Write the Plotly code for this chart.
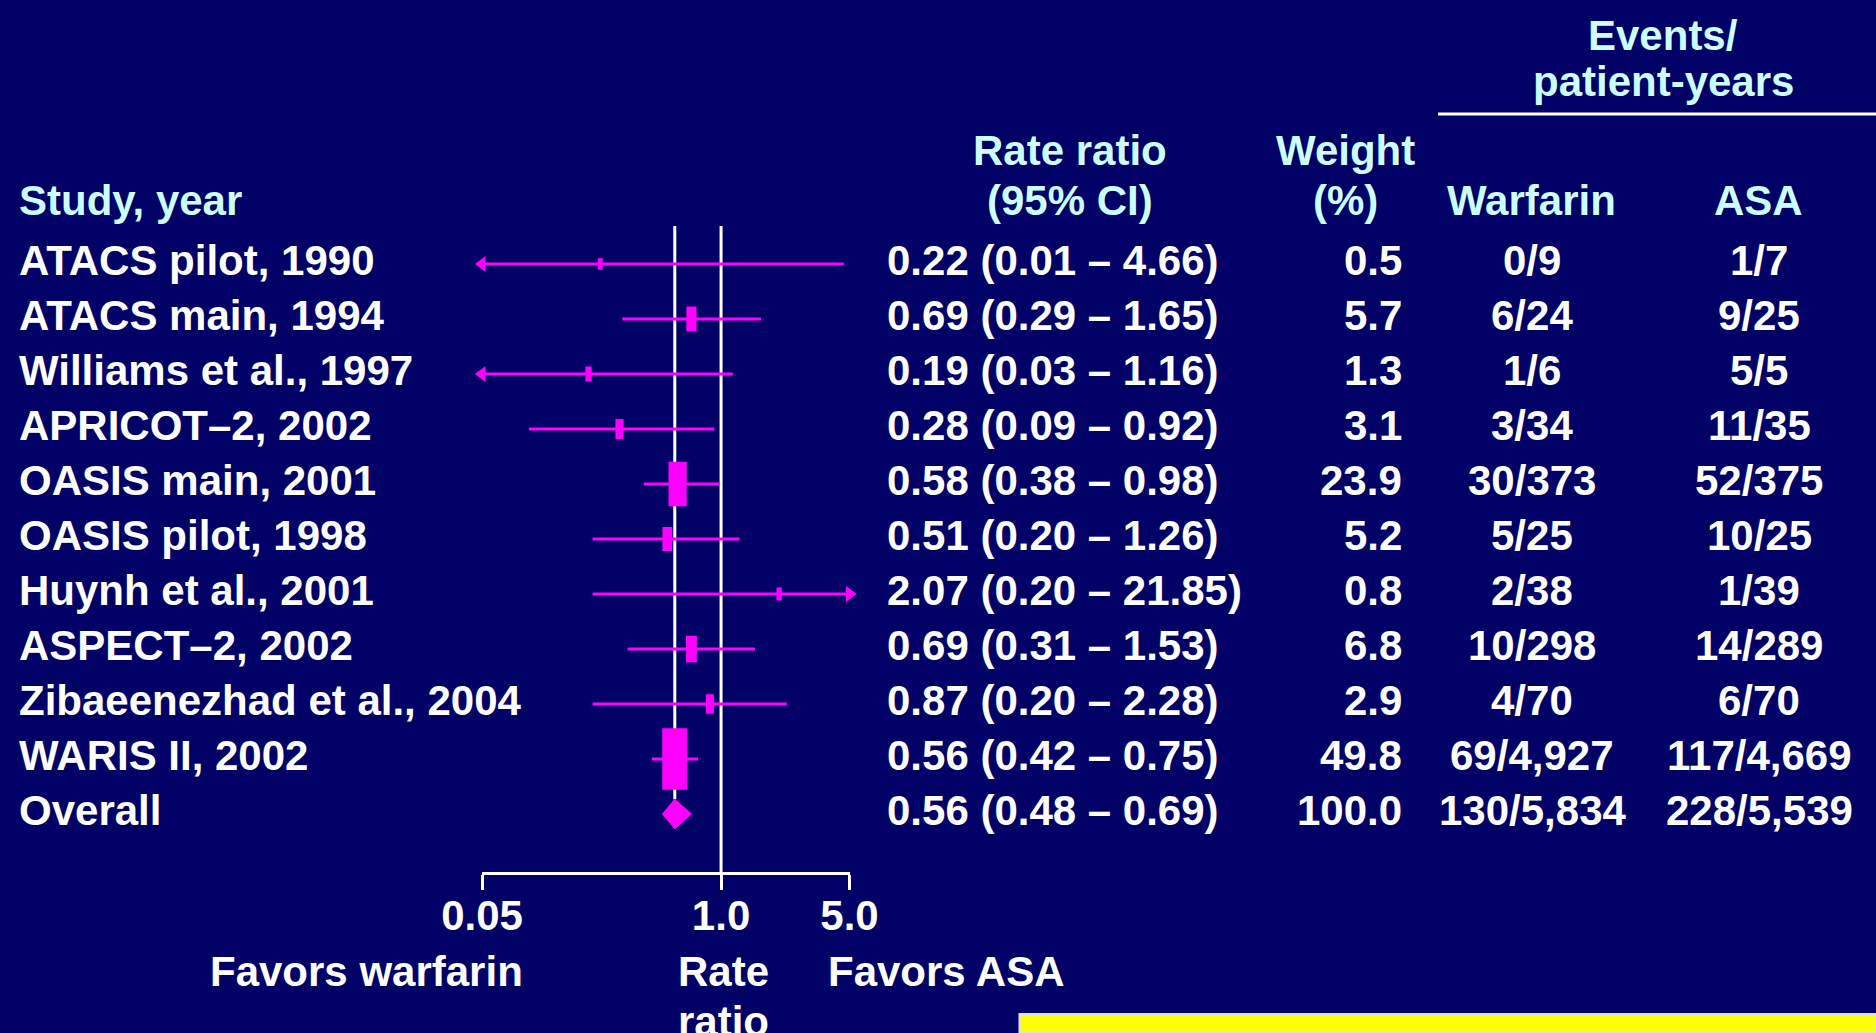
import numpy as np
import plotly.graph_objects as go

# ---------------- data ----------------
studies = ["ATACS pilot, 1990", "ATACS main, 1994", "Williams et al., 1997",
           "APRICOT–2, 2002", "OASIS main, 2001", "OASIS pilot, 1998",
           "Huynh et al., 2001", "ASPECT–2, 2002", "Zibaeenezhad et al., 2004",
           "WARIS II, 2002"]
rate_ratio = [0.22, 0.69, 0.19, 0.28, 0.58, 0.51, 2.07, 0.69, 0.87, 0.56]
ci_low = [0.01, 0.29, 0.03, 0.09, 0.38, 0.20, 0.20, 0.31, 0.20, 0.42]
ci_high = [4.66, 1.65, 1.16, 0.92, 0.98, 1.26, 21.85, 1.53, 2.28, 0.75]
weight = [0.5, 5.7, 1.3, 3.1, 23.9, 5.2, 0.8, 6.8, 2.9, 49.8]
warf_events = [0, 6, 1, 3, 30, 5, 2, 10, 4, 69]
warf_py = [9, 24, 6, 34, 373, 25, 38, 298, 70, 4927]
asa_events = [1, 9, 5, 11, 52, 10, 1, 14, 6, 117]
asa_py = [7, 25, 5, 35, 375, 25, 39, 289, 70, 4669]

overall_label = "Overall"
overall_rr, overall_low, overall_high = 0.56, 0.48, 0.69
overall_weight = 100.0
overall_warf = (130, 5834)
overall_asa = (228, 5539)

tick_vals = [0.05, 1.0, 5.0]
tick_text = ["0.05", "1.0", "5.0"]

# ---------------- layout constants ----------------
W, H = 1876, 1033
BG = "#000066"
MAG = "#FF00FF"
CYAN = "#CCFFFF"
FONT = "Arial, Liberation Sans, sans-serif"
FS = 42
XMIN, XMAX = tick_vals[0], tick_vals[-1]
PLOT_L, PLOT_R, PLOT_T, PLOT_B = 482, 849.5, 226, 872
ROW0_PX, ROW_PX = 264, 55
DIAMOND_H = 0.27


def px2row(p):
    return (p - ROW0_PX) / ROW_PX


def px(x):
    return x / W


def py(y):
    return 1 - y / H


n = len(studies)
rows = list(range(n))
overall_row = n
row_top, row_bot = px2row(PLOT_T), px2row(PLOT_B)

fig = go.Figure()

# reference lines (null and overall estimate)
fig.add_trace(go.Scatter(x=[1.0, 1.0], y=[row_top, row_bot], mode="lines",
                         line=dict(color="white", width=3), hoverinfo="skip"))
fig.add_trace(go.Scatter(x=[overall_rr, overall_rr], y=[row_top, overall_row - DIAMOND_H],
                         mode="lines", line=dict(color="white", width=3), hoverinfo="skip"))

# CI lines
cx, cy = [], []
arr_x, arr_y, arr_sym = [], [], []
for i in rows:
    cx += [max(ci_low[i], XMIN), min(ci_high[i], XMAX), None]
    cy += [i, i, None]
    if ci_low[i] < XMIN:
        arr_x.append(XMIN); arr_y.append(i); arr_sym.append("triangle-left")
    if ci_high[i] > XMAX:
        arr_x.append(XMAX); arr_y.append(i); arr_sym.append("triangle-right")
fig.add_trace(go.Scatter(x=cx, y=cy, mode="lines", line=dict(color=MAG, width=3),
                         hoverinfo="skip"))
fig.add_trace(go.Scatter(x=arr_x, y=arr_y, mode="markers", cliponaxis=False,
                         marker=dict(symbol=arr_sym, size=14, color=MAG, opacity=1,
                                     line=dict(width=0)),
                         hoverinfo="skip"))

# weighted point estimates (rectangles)
heights = [4.4 + 5.6 * np.sqrt(w) for w in weight]
widths = [0.57 * h for h in heights]
fig.add_trace(go.Scatter(x=rate_ratio, y=rows, mode="markers",
                         marker=dict(symbol="line-ns", size=heights, color=MAG, opacity=1,
                                     line=dict(color=MAG, width=widths)),
                         hoverinfo="skip"))

# overall diamond
fig.add_trace(go.Scatter(
    x=[overall_low, overall_rr, overall_high, overall_rr, overall_low],
    y=[overall_row, overall_row - DIAMOND_H, overall_row, overall_row + DIAMOND_H, overall_row],
    mode="lines", fill="toself", fillcolor=MAG, line=dict(color=MAG, width=1),
    hoverinfo="skip"))

annotations = []


def txt(text, x, y, xanchor="left", color="white", yref="paper", yshift=0):
    annotations.append(dict(text=text, x=x, y=y, xref="paper", yref=yref,
                            xanchor=xanchor, yanchor="middle", showarrow=False,
                            yshift=yshift,
                            font=dict(family=FONT, size=FS, color=color, weight="bold")))


# row texts
all_labels = studies + [overall_label]
all_rr = rate_ratio + [overall_rr]
all_lo = ci_low + [overall_low]
all_hi = ci_high + [overall_high]
all_w = weight + [overall_weight]
all_we = warf_events + [overall_warf[0]]
all_wp = warf_py + [overall_warf[1]]
all_ae = asa_events + [overall_asa[0]]
all_ap = asa_py + [overall_asa[1]]
for i in range(n + 1):
    txt(all_labels[i], px(17), i, "left", yref="y", yshift=4)
    txt(f"{all_rr[i]:.2f} ({all_lo[i]:.2f} – {all_hi[i]:.2f})", px(885), i, "left", yref="y", yshift=4)
    txt(f"{all_w[i]:.1f}", px(1404), i, "right", yref="y", yshift=4)
    txt(f"{all_we[i]:,}/{all_wp[i]:,}", px(1532), i, "center", yref="y", yshift=4)
    txt(f"{all_ae[i]:,}/{all_ap[i]:,}", px(1759), i, "center", yref="y", yshift=4)

# headers
txt("Study, year", px(17), py(200), "left", CYAN)
txt("Rate ratio", px(1070), py(150), "center", CYAN)
txt("(95% CI)", px(1070), py(200), "center", CYAN)
txt("Weight", px(1345), py(150), "center", CYAN)
txt("(%)", px(1345), py(200), "center", CYAN)
txt("Warfarin", px(1531), py(200), "center", CYAN)
txt("ASA", px(1758), py(200), "center", CYAN)
txt("Events/", px(1663), py(36), "center", CYAN)
txt("patient-years", px(1663), py(82), "center", CYAN)

# axis captions
txt("Favors warfarin", px(366), py(971), "center")
txt("Rate", px(723), py(971), "center")
txt("ratio", px(723), py(1021), "center")
txt("Favors ASA", px(826), py(971), "left")

shapes = [
    dict(type="line", xref="paper", yref="paper", x0=px(1438), x1=1.0, y0=py(114), y1=py(114),
         line=dict(color="white", width=3)),
    dict(type="rect", xref="paper", yref="paper", x0=px(1019.5), x1=1.0, y0=0.0, y1=py(1014),
         fillcolor="#FFFF00", line=dict(color="#DDDDFF", width=2)),
]

fig.update_layout(
    template="none",
    autosize=False,
    width=W, height=H, margin=dict(l=0, r=0, t=0, b=0, pad=0),
    paper_bgcolor=BG, plot_bgcolor=BG, showlegend=False,
    annotations=annotations, shapes=shapes,
    xaxis=dict(type="log", domain=[px(PLOT_L), px(PLOT_R)],
               range=[np.log10(XMIN), np.log10(XMAX)], automargin=False,
               showgrid=False, zeroline=False, showline=True, linecolor="white", linewidth=3,
               ticks="outside", ticklen=15, tickwidth=3, tickcolor="white",
               tickvals=tick_vals, ticktext=tick_text, ticklabelstandoff=-10,
               tickfont=dict(family=FONT, size=FS, color="white", weight="bold"),
               fixedrange=True),
    yaxis=dict(domain=[py(PLOT_B), py(PLOT_T)], range=[row_bot, row_top],
               visible=False, fixedrange=True, automargin=False),
)

fig.write_html(
    "out.html",
    config={"displayModeBar": False},
    post_script="document.body.style.margin='0';document.body.style.overflow='hidden';",
)
